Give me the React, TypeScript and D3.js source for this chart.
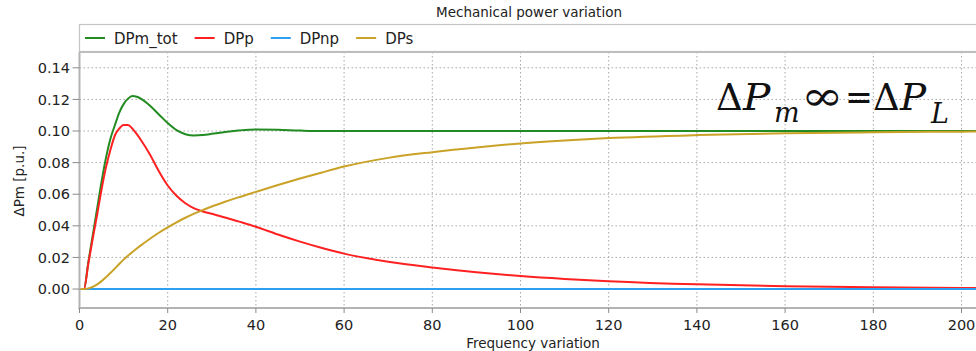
import React, { useEffect, useRef } from "react";
import * as d3 from "d3";

// Frequency-variation samples and the mechanical power responses [p.u.]
const FREQ = [0, 1, 2, 3, 4, 5, 6, 7, 8, 9, 10, 11, 12, 13, 14, 16, 18, 20, 22, 24, 26, 28, 30, 33, 36, 40, 45, 50, 55, 60, 70, 80, 90, 100, 110, 120, 140, 160, 180, 200, 205];

const DPM_TOT = [0, 0, 0.017, 0.034, 0.051, 0.068, 0.083, 0.095, 0.1035, 0.1115, 0.117, 0.1205, 0.1222, 0.1217, 0.1203, 0.116, 0.1105, 0.105, 0.1005, 0.098, 0.0972, 0.0975, 0.0982, 0.0994, 0.1003, 0.101, 0.1008, 0.1003, 0.1, 0.1, 0.1, 0.1, 0.1, 0.1, 0.1, 0.1, 0.1, 0.1, 0.1, 0.1, 0.1];

const DPP = [0, 0, 0.016, 0.032, 0.047, 0.063, 0.077, 0.088, 0.097, 0.1015, 0.1038, 0.1038, 0.1015, 0.098, 0.094, 0.085, 0.0745, 0.0655, 0.059, 0.0543, 0.0511, 0.0491, 0.0476, 0.0453, 0.0428, 0.0394, 0.0345, 0.03, 0.026, 0.0224, 0.0172, 0.0136, 0.0106, 0.0082, 0.0064, 0.005, 0.003, 0.0018, 0.0011, 0.0007, 0.0006];

const DPNP = [0, 0, 0, 0, 0, 0, 0, 0, 0, 0, 0, 0, 0, 0, 0, 0, 0, 0, 0, 0, 0, 0, 0, 0, 0, 0, 0, 0, 0, 0, 0, 0, 0, 0, 0, 0, 0, 0, 0, 0, 0];

const DPS = [0, 0, 0.0004, 0.0014, 0.003, 0.005, 0.0074, 0.0101, 0.0129, 0.0158, 0.0186, 0.0211, 0.0235, 0.0257, 0.0278, 0.0318, 0.0356, 0.039, 0.0422, 0.0451, 0.0477, 0.05, 0.0522, 0.0552, 0.058, 0.0615, 0.0658, 0.0699, 0.0738, 0.0775, 0.083, 0.0866, 0.0896, 0.0921, 0.094, 0.0955, 0.0974, 0.0986, 0.0992, 0.0996, 0.0997];

const SERIES_NAMES = ["DPm_tot", "DPp", "DPnp", "DPs"];
const SERIES_VALUES = [DPM_TOT, DPP, DPNP, DPS];
const SERIES_COLORS = ["#228b22", "#ff2121", "#2f9ff0", "#c9a227"];

const X_TICKS = [0, 20, 40, 60, 80, 100, 120, 140, 160, 180, 200];
const Y_TICKS = [0, 0.02, 0.04, 0.06, 0.08, 0.1, 0.12, 0.14];

const TITLE = "Mechanical power variation";
const X_LABEL = "Frequency variation";
const Y_LABEL = "ΔPm [p.u.]";

const W = 976;
const H = 351;
const FONT = "'DejaVu Sans', Verdana, sans-serif";
const SERIF = "'DejaVu Serif', 'Liberation Serif', serif";

// pieces of the steady-state relation ΔP_m∞ = ΔP_L
type Piece = { t: string; x: number; italic?: boolean; size: number; base: number; sx?: number; sy?: number };
const EQUATION: Piece[] = [
  { t: "Δ", x: 716, size: 37, base: 109.5 },
  { t: "P", x: 743, italic: true, size: 37, base: 109.5, sx: 1.1 },
  { t: "m", x: 774, italic: true, size: 27, base: 121.5 },
  { t: "∞", x: 801, size: 37, base: 109.5, sx: 1.38, sy: 1.1 },
  { t: "=", x: 845, size: 37, base: 109.5, sx: 0.9 },
  { t: "Δ", x: 873, size: 37, base: 109.5 },
  { t: "P", x: 900, italic: true, size: 37, base: 109.5, sx: 1.05 },
  { t: "L", x: 931, italic: true, size: 27, base: 122.5 },
];

export default function App() {
  const ref = useRef<SVGSVGElement | null>(null);

  useEffect(() => {
    const svg = d3.select(ref.current);
    svg.selectAll("*").remove();

    const left = 79.5;
    const top = 52;
    const bottom = 308;

    const x = d3.scaleLinear().domain([0, 200]).range([left, 961.5]);
    const y = d3.scaleLinear().domain([-0.012, 0.15]).range([bottom, top]);

    svg.append("rect").attr("width", W).attr("height", H).attr("fill", "#ffffff");

    // title
    svg
      .append("text")
      .attr("x", 529)
      .attr("y", 17)
      .attr("text-anchor", "middle")
      .attr("font-family", FONT)
      .attr("font-size", 13.5)
      .attr("fill", "#222")
      .text(TITLE);

    // grid
    const grid = svg.append("g").attr("stroke", "#a8a8a8").attr("stroke-width", 1).attr("stroke-dasharray", "1.5,2.5");
    grid
      .selectAll("line.v")
      .data(X_TICKS.filter((t) => t > 0))
      .join("line")
      .attr("x1", (d) => x(d))
      .attr("x2", (d) => x(d))
      .attr("y1", top)
      .attr("y2", bottom);
    grid
      .selectAll("line.h")
      .data(Y_TICKS)
      .join("line")
      .attr("x1", left)
      .attr("x2", W)
      .attr("y1", (d) => y(d))
      .attr("y2", (d) => y(d));

    // series
    svg
      .append("defs")
      .append("clipPath")
      .attr("id", "plotclip")
      .append("rect")
      .attr("x", left)
      .attr("y", top)
      .attr("width", W - left)
      .attr("height", bottom - top);

    const line = d3
      .line<number>()
      .x((_, i) => x(FREQ[i]))
      .y((d) => y(d))
      .curve(d3.curveMonotoneX);

    const plot = svg.append("g").attr("clip-path", "url(#plotclip)");
    SERIES_VALUES.forEach((vals, k) => {
      plot
        .append("path")
        .attr("d", line(vals) as string)
        .attr("fill", "none")
        .attr("stroke", SERIES_COLORS[k])
        .attr("stroke-width", 2);
    });

    // axes
    const axisColor = "#b3b3b3";
    svg.append("line").attr("x1", left).attr("x2", left).attr("y1", top).attr("y2", bottom + 1).attr("stroke", axisColor).attr("stroke-width", 2);
    svg.append("line").attr("x1", left - 1).attr("x2", W).attr("y1", bottom).attr("y2", bottom).attr("stroke", axisColor).attr("stroke-width", 2);

    const xt = svg.append("g");
    X_TICKS.forEach((t) => {
      xt.append("line").attr("x1", x(t)).attr("x2", x(t)).attr("y1", bottom).attr("y2", bottom + 5).attr("stroke", "#8a8a8a").attr("stroke-width", 1);
      xt.append("text")
        .attr("x", x(t))
        .attr("y", 330)
        .attr("text-anchor", "middle")
        .attr("font-family", FONT)
        .attr("font-size", 14.5)
        .attr("fill", "#222")
        .text(String(t));
    });

    const yt = svg.append("g");
    Y_TICKS.forEach((t) => {
      yt.append("line").attr("x1", left - 7).attr("x2", left).attr("y1", y(t)).attr("y2", y(t)).attr("stroke", "#8a8a8a").attr("stroke-width", 1);
      yt.append("text")
        .attr("x", 70)
        .attr("y", y(t))
        .attr("dy", "0.36em")
        .attr("text-anchor", "end")
        .attr("font-family", FONT)
        .attr("font-size", 14.5)
        .attr("fill", "#222")
        .text(t.toFixed(2));
    });

    svg
      .append("text")
      .attr("x", 533)
      .attr("y", 348)
      .attr("text-anchor", "middle")
      .attr("font-family", FONT)
      .attr("font-size", 13.5)
      .attr("fill", "#222")
      .text(X_LABEL);

    svg
      .append("text")
      .attr("transform", "translate(24,181) rotate(-90)")
      .attr("text-anchor", "middle")
      .attr("font-family", FONT)
      .attr("font-size", 13.5)
      .attr("fill", "#222")
      .text(Y_LABEL);

    // legend box
    svg
      .append("rect")
      .attr("x", left)
      .attr("y", 24.5)
      .attr("width", W)
      .attr("height", 27)
      .attr("fill", "#fff")
      .attr("stroke", "#c4c4c4")
      .attr("stroke-width", 1.2);
    svg.append("line").attr("x1", left).attr("x2", W).attr("y1", top).attr("y2", top).attr("stroke", "#bdbdbd").attr("stroke-width", 2);

    let lx = 85;
    SERIES_NAMES.forEach((name, k) => {
      svg.append("line").attr("x1", lx).attr("x2", lx + 20).attr("y1", 38).attr("y2", 38).attr("stroke", SERIES_COLORS[k]).attr("stroke-width", 2);
      const t = svg
        .append("text")
        .attr("x", lx + 29)
        .attr("y", 44)
        .attr("font-family", FONT)
        .attr("font-size", 15)
        .attr("fill", "#222")
        .text(name);
      const w = (t.node() as SVGTextElement).getComputedTextLength();
      lx = lx + 29 + w + 17;
    });

    // steady-state relation
    const eq = svg.append("g").attr("fill", "#111").attr("font-family", SERIF);
    EQUATION.forEach((p) => {
      eq.append("text")
        .attr("transform", `translate(${p.x},${p.base}) scale(${p.sx ?? 1},${p.sy ?? 1})`)
        .attr("font-size", p.size)
        .attr("font-style", p.italic ? "italic" : "normal")
        .text(p.t);
    });
  }, []);

  return (
    <svg
      ref={ref}
      width={W}
      height={H}
      style={{ position: "absolute", left: 0, top: 0, display: "block" }}
    />
  );
}
